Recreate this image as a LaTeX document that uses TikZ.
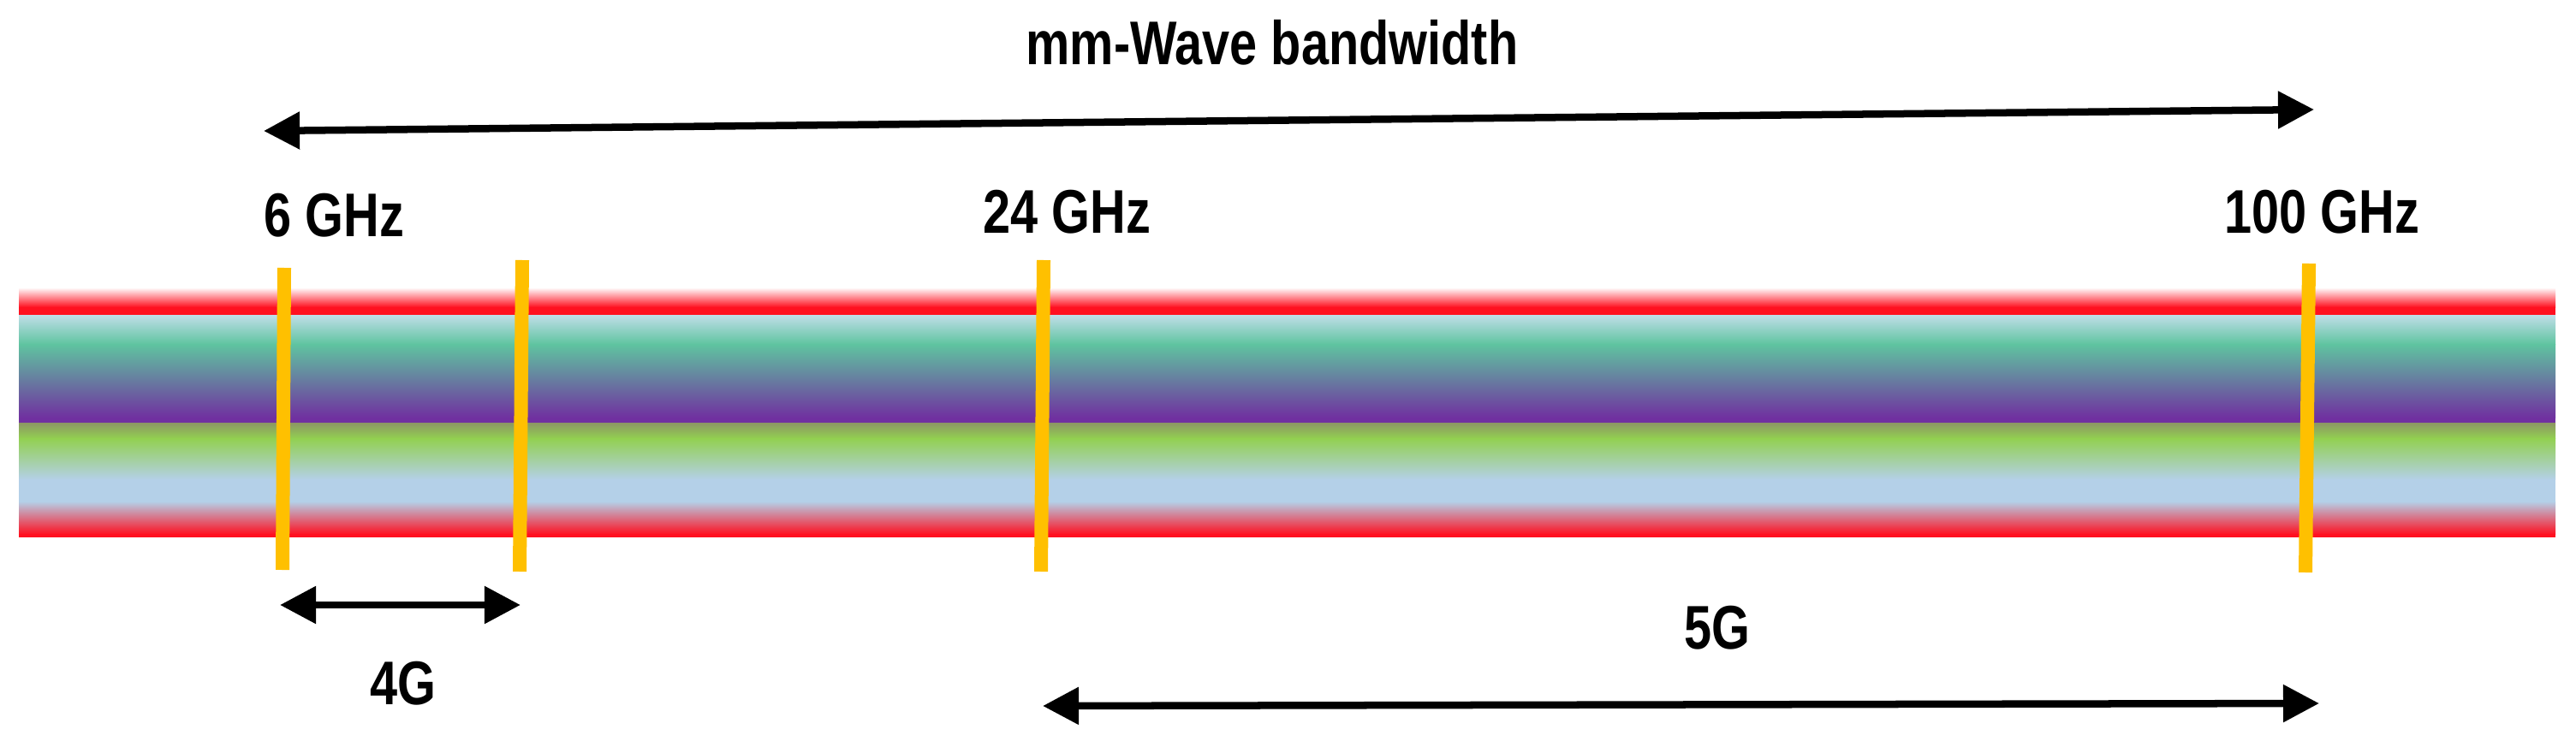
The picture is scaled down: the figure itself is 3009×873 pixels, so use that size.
\documentclass[tikz,border=0pt]{standalone}
\usepackage{fontspec}
\usetikzlibrary{arrows.meta}
\newfontfamily\lblfont{Liberation Sans}[FakeStretch=0.8]
\definecolor{bandred}{RGB}{255,16,32}
\definecolor{lbone}{RGB}{192,222,232}
\definecolor{tealc}{RGB}{95,196,160}
\definecolor{purp}{RGB}{112,48,160}
\definecolor{olive}{RGB}{140,150,100}
\definecolor{grn}{RGB}{146,208,80}
\definecolor{lbtwo}{RGB}{180,208,232}
\definecolor{gold}{RGB}{255,192,0}
\begin{document}
\begin{tikzpicture}[x=0.01cm,y=-0.01cm,
  lbl/.style={inner sep=0pt, anchor=base west, font=\lblfont\bfseries\fontsize{20.5}{24}\selectfont},
  dimarrow/.style={line width=0.085cm, {Triangle[length=0.42cm,width=0.42cm]}-{Triangle[length=0.42cm,width=0.42cm]}},
  marker/.style={line width=0.16cm, draw=gold},
  seg/.style={draw=none}]
\useasboundingbox (0,0) rectangle (3009,873);
% spectrum band
\def\xl{22}\def\xr{2985}
\shade[seg, top color=white, bottom color=bandred] (\xl,336) rectangle (\xr,359);
\fill[bandred] (\xl,358.5) rectangle (\xr,368.5);
\shade[seg, top color=lbone, bottom color=tealc] (\xl,368) rectangle (\xr,402.5);
\shade[seg, top color=tealc, bottom color=purp] (\xl,402) rectangle (\xr,488.5);
\fill[purp] (\xl,488) rectangle (\xr,494.5);
\shade[seg, top color=olive, bottom color=grn] (\xl,494) rectangle (\xr,512.5);
\shade[seg, top color=grn, bottom color=lbtwo] (\xl,512) rectangle (\xr,560.5);
\fill[lbtwo] (\xl,560) rectangle (\xr,586.5);
\shade[seg, top color=lbtwo, bottom color=bandred] (\xl,586) rectangle (\xr,624.5);
\fill[bandred] (\xl,624) rectangle (\xr,628);
% frequency markers
\draw[marker] (332,313) -- (330,666);
\draw[marker] (610,304) -- (607,668);
\draw[marker] (1219,304) -- (1216,668);
\draw[marker] (2697,308) -- (2693,669);
% labels
\node[lbl] (title) at (1198,76) {mm-Wave bandwidth};
\node[lbl] (f6) at (308,277) {6 GHz};
\node[lbl] (f24) at (1148,272) {24 GHz};
\node[lbl] (f100) at (2598,272) {100 GHz};
\node[lbl] (g4) at (432,823) {4G};
\node[lbl] (g5) at (1967,758) {5G};
% arrow end points
\coordinate (mwL) at (308,153);
\coordinate (mwR) at (2703,128);
\coordinate (fgL) at (327,707);
\coordinate (fgR) at (608,707);
\coordinate (ggL) at (1218,825);
\coordinate (ggR) at (2709,822);
\draw[dimarrow] (mwL) -- (mwR);
\draw[dimarrow] (fgL) -- (fgR);
\draw[dimarrow] (ggL) -- (ggR);
\end{tikzpicture}
\end{document}
